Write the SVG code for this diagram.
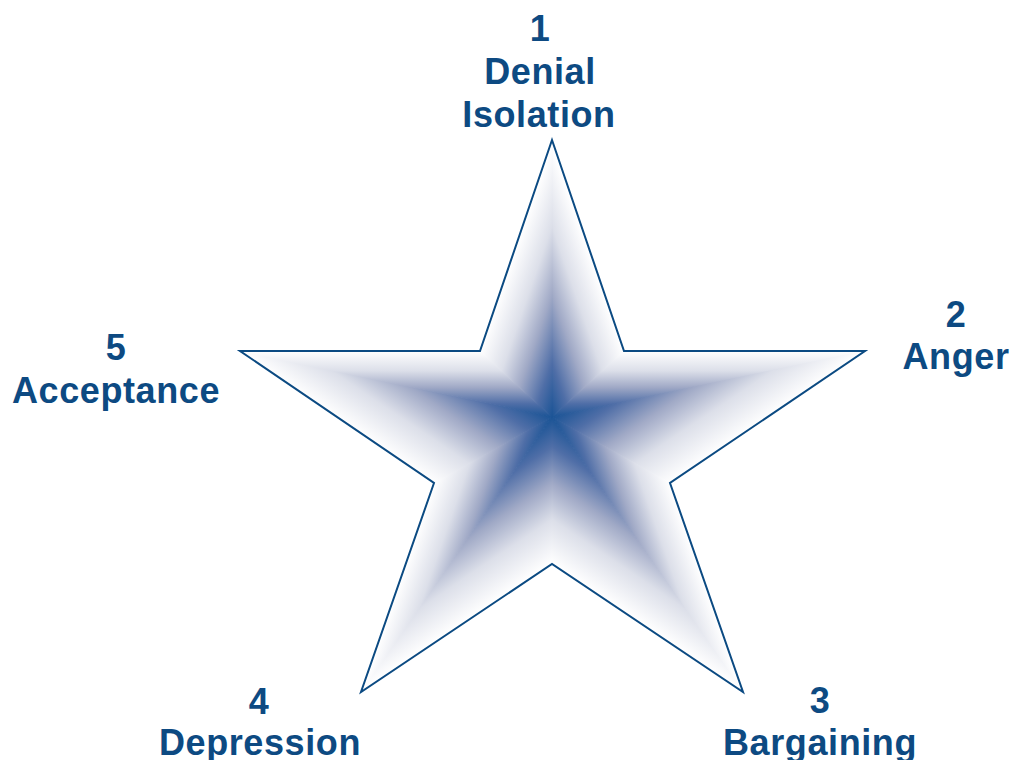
<svg xmlns="http://www.w3.org/2000/svg" width="1012" height="760" viewBox="0 0 1012 760">
  <style>
    .lbl { font-family: "Liberation Sans", Arial, sans-serif; font-weight: bold; font-size: 36px; letter-spacing: 0.6px; fill: #0d4a82; text-anchor: middle; }
    .tri { stroke-width: 1; stroke-linejoin: round; }
  </style>
  <defs>
    <linearGradient id="g1" gradientUnits="userSpaceOnUse" x1="552" y1="417" x2="636.6" y2="387.6">
      <stop offset="0" stop-color="#1b5496"/>
      <stop offset="0.2" stop-color="#4f6ea7"/>
      <stop offset="0.45" stop-color="#a0a9c6"/>
      <stop offset="0.7" stop-color="#dcdfe9"/>
      <stop offset="1" stop-color="#ffffff"/>
    </linearGradient>
    <linearGradient id="g2" href="#g1" x1="552" y1="417" x2="552" y2="351"/>
    <linearGradient id="g3" href="#g1" x1="552" y1="417" x2="619.8" y2="517.7"/>
    <linearGradient id="g4" href="#g1" x1="552" y1="417" x2="484.2" y2="517.7"/>
    <linearGradient id="g5" href="#g1" x1="552" y1="417" x2="467.4" y2="387.6"/>
  </defs>
  <rect width="1012" height="760" fill="#ffffff"/>
  <g id="star">
    <polygon class="tri" fill="url(#g1)" stroke="url(#g1)" points="552,417 552,140 624,351"/>
    <polygon class="tri" fill="url(#g2)" stroke="url(#g2)" points="552,417 624,351 865,351"/>
    <polygon class="tri" fill="url(#g3)" stroke="url(#g3)" points="552,417 865,351 670,483"/>
    <polygon class="tri" fill="url(#g1)" stroke="url(#g1)" points="552,417 670,483 743,692"/>
    <polygon class="tri" fill="url(#g4)" stroke="url(#g4)" points="552,417 743,692 552,564"/>
    <polygon class="tri" fill="url(#g3)" stroke="url(#g3)" points="552,417 552,564 361,692"/>
    <polygon class="tri" fill="url(#g5)" stroke="url(#g5)" points="552,417 361,692 434,483"/>
    <polygon class="tri" fill="url(#g4)" stroke="url(#g4)" points="552,417 434,483 240,351"/>
    <polygon class="tri" fill="url(#g2)" stroke="url(#g2)" points="552,417 240,351 480,351"/>
    <polygon class="tri" fill="url(#g5)" stroke="url(#g5)" points="552,417 480,351 552,140"/>
    <polygon fill="none" stroke="#0b4a82" stroke-width="2" stroke-linejoin="miter" points="552,140 624,351 865,351 670,483 743,692 552,564 361,692 434,483 240,351 480,351"/>
  </g>
  <g id="n1">
    <text class="lbl" x="540" y="41">1</text>
    <text class="lbl" x="540" y="84">Denial</text>
    <text class="lbl" x="539" y="127">Isolation</text>
  </g>
  <g id="n2">
    <text class="lbl" x="956" y="327">2</text>
    <text class="lbl" x="956" y="369">Anger</text>
  </g>
  <g id="n3">
    <text class="lbl" x="820" y="713">3</text>
    <text class="lbl" x="820" y="755">Bargaining</text>
  </g>
  <g id="n4">
    <text class="lbl" x="259" y="714">4</text>
    <text class="lbl" x="260" y="755">Depression</text>
  </g>
  <g id="n5">
    <text class="lbl" x="116" y="360">5</text>
    <text class="lbl" x="116" y="403">Acceptance</text>
  </g>
</svg>
